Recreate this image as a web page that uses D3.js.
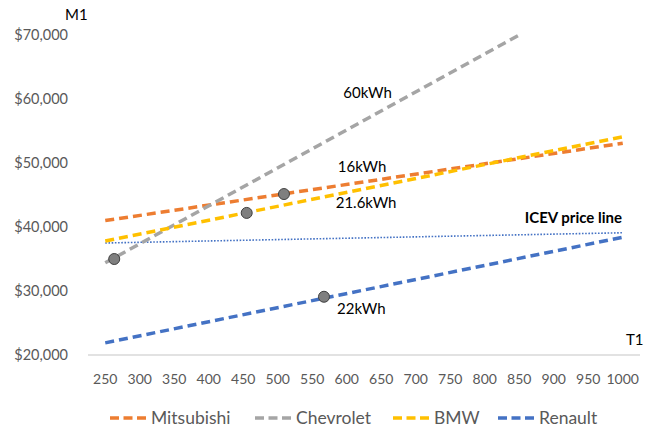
<!DOCTYPE html>
<html lang="en">
<head>
    <meta charset="UTF-8">
    <title>EV price vs ICEV price line</title>
    <style>
        body {
            margin: 0;
            background: #fff;
            font-family: Lato, "Open Sans", sans-serif;
        }
        .tick-label {
            fill: #595959;
            font-size: 14.5px;
        }
        .note {
            fill: #000;
            font-size: 15px;
        }
    </style>
</head>
<body>
<svg id="chart" width="656" height="428"></svg>
<script src="https://d3js.org/d3.v7.min.js"></script>
<script>
    // Tick values
    const xTicks = [250, 300, 350, 400, 450, 500, 550, 600, 650, 700, 750, 800, 850, 900, 950, 1000];
    const yTicks = [20000, 30000, 40000, 50000, 60000, 70000];

    // Series: end points of each straight line [T1, price]
    const mitsubishi = [[250, 41000], [1000, 53100]];
    const chevrolet = [[250, 34400], [850, 70000]];
    const bmw = [[250, 37800], [1000, 54100]];
    const renault = [[250, 21900], [1000, 38400]];
    const icev = [[250, 37500], [1000, 39100]];

    // Marked points and their labels
    const markers = [[263, 35000], [455, 42200], [509, 45150], [567, 29100]];
    const notes = [
        { text: "60kWh", x: 595, y: 60900 },
        { text: "16kWh", x: 587, y: 49400 },
        { text: "21.6kWh", x: 584, y: 43750 },
        { text: "22kWh", x: 586, y: 27200 }
    ];

    const series = [
        { name: "Mitsubishi", color: "#ED7D31", data: mitsubishi },
        { name: "Chevrolet", color: "#A5A5A5", data: chevrolet },
        { name: "BMW", color: "#FFC000", data: bmw },
        { name: "Renault", color: "#4472C4", data: renault }
    ];

    const svg = d3.select("#chart");

    const x = d3.scaleLinear().domain([225, 1025]).range([88, 640]);
    const y = d3.scaleLinear().domain([20000, 70000]).range([355, 35]);

    const line = d3.line().x(d => x(d[0])).y(d => y(d[1]));

    // x axis line
    svg.append("line")
        .attr("x1", x(225)).attr("x2", x(1025))
        .attr("y1", y(20000)).attr("y2", y(20000))
        .attr("stroke", "#D9D9D9")
        .attr("stroke-width", 1.3);

    // tick labels
    svg.selectAll(".xlab")
        .data(xTicks)
        .enter()
        .append("text")
        .attr("class", "tick-label")
        .attr("x", d => x(d))
        .attr("y", 384)
        .attr("text-anchor", "middle")
        .style("font-size", "14px")
        .text(d => d);

    svg.selectAll(".ylab")
        .data(yTicks)
        .enter()
        .append("text")
        .attr("class", "tick-label")
        .attr("x", 68)
        .attr("y", d => y(d) + 5)
        .attr("text-anchor", "end")
        .text(d => "$" + d3.format(",")(d));

    // axis titles
    svg.append("text").attr("class", "note").attr("x", 65).attr("y", 20).text("M1");
    svg.append("text").attr("class", "note").attr("x", 626).attr("y", 345).text("T1");

    // ICEV price line
    svg.append("path")
        .attr("d", line(icev))
        .attr("fill", "none")
        .attr("stroke", "#4472C4")
        .attr("stroke-width", 1.6)
        .attr("stroke-dasharray", "1.6,1.6");

    // brand lines
    svg.selectAll(".brand")
        .data(series)
        .enter()
        .append("path")
        .attr("d", d => line(d.data))
        .attr("fill", "none")
        .attr("stroke", d => d.color)
        .attr("stroke-width", 3.5)
        .attr("stroke-dasharray", "9,5");

    // markers
    svg.selectAll(".marker")
        .data(markers)
        .enter()
        .append("circle")
        .attr("cx", d => x(d[0]))
        .attr("cy", d => y(d[1]))
        .attr("r", 5.5)
        .attr("fill", "#7F7F7F")
        .attr("stroke", "#404040")
        .attr("stroke-width", 1);

    // labels
    svg.selectAll(".lbl")
        .data(notes)
        .enter()
        .append("text")
        .attr("class", "note")
        .attr("x", d => x(d.x))
        .attr("y", d => y(d.y) + 5)
        .text(d => d.text);

    svg.append("text")
        .attr("class", "note")
        .attr("x", 622)
        .attr("y", 223)
        .attr("text-anchor", "end")
        .attr("font-weight", "bold")
        .text("ICEV price line");

    // legend
    const legendX = [110, 255, 393, 498];
    const leg = svg.selectAll(".leg")
        .data(series)
        .enter()
        .append("g")
        .attr("transform", (d, i) => `translate(${legendX[i]},418)`);

    leg.append("line")
        .attr("x1", 0).attr("x2", 36)
        .attr("stroke", d => d.color)
        .attr("stroke-width", 3.5)
        .attr("stroke-dasharray", "9,4.5");

    leg.append("text")
        .attr("class", "tick-label")
        .attr("x", 41)
        .attr("y", 6)
        .style("font-size", "17.5px")
        .text(d => d.name);
</script>
</body>
</html>
